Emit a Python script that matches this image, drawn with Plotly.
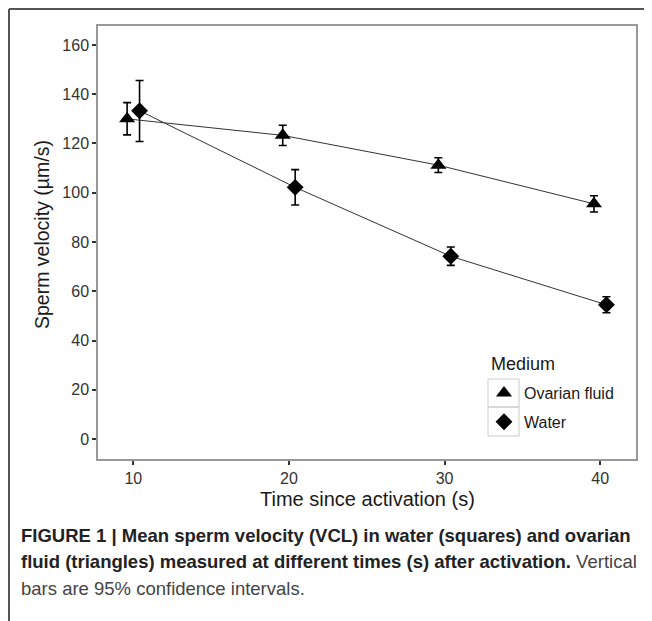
import plotly.graph_objects as go

# Data
times = [10, 20, 30, 40]
dodge = 0.4
ovarian_mean = [130.0, 123.3, 111.2, 95.5]
ovarian_lo = [123.5, 119.2, 108.2, 92.2]
ovarian_hi = [136.6, 127.4, 114.2, 98.8]
water_mean = [133.3, 102.2, 74.2, 54.5]
water_lo = [120.8, 95.0, 70.5, 51.3]
water_hi = [145.6, 109.4, 78.0, 57.8]

x_tick_vals = [10, 20, 30, 40]
y_tick_vals = [0, 20, 40, 60, 80, 100, 120, 140, 160]

# page body has an 8px margin; work in screen pixels and offset
OFF = 8
W, H = 652 - OFF, 621 - OFF
L, R, T, B = 98 - OFF, 16, 26 - OFF, 162
pw, ph = W - L - R, H - T - B

def px_x(p):
    return (p - OFF - L) / pw

def px_y(p):
    return (H - B - (p - OFF)) / ph

ov_x = [t - dodge for t in times]
wa_x = [t + dodge for t in times]

fig = go.Figure()
fig.add_trace(go.Scatter(x=ov_x, y=ovarian_mean, mode="lines", line=dict(color="#333333", width=1),
                         showlegend=False, hoverinfo="skip"))
fig.add_trace(go.Scatter(x=wa_x, y=water_mean, mode="lines", line=dict(color="#333333", width=1),
                         showlegend=False, hoverinfo="skip"))
fig.add_trace(go.Scatter(
    x=ov_x, y=ovarian_mean, mode="markers", name="Ovarian fluid", legendgroup="ov",
    marker=dict(symbol="triangle-up", size=14, color="black"),
    error_y=dict(type="data", symmetric=False,
                 array=[h - m for h, m in zip(ovarian_hi, ovarian_mean)],
                 arrayminus=[m - l for m, l in zip(ovarian_mean, ovarian_lo)],
                 color="black", thickness=1.6, width=4)))
fig.add_trace(go.Scatter(
    x=wa_x, y=water_mean, mode="markers", name="Water", legendgroup="wa",
    marker=dict(symbol="diamond", size=13, color="black"),
    error_y=dict(type="data", symmetric=False,
                 array=[h - m for h, m in zip(water_hi, water_mean)],
                 arrayminus=[m - l for m, l in zip(water_mean, water_lo)],
                 color="black", thickness=1.6, width=4)))

font_family = "Liberation Sans, Arial, sans-serif"

shapes = [
    # outer frame (top and left)
    dict(type="line", xref="paper", yref="paper", x0=px_x(9), x1=px_x(660), y0=px_y(9), y1=px_y(9),
         line=dict(color="#555555", width=2)),
    dict(type="line", xref="paper", yref="paper", x0=px_x(9), x1=px_x(9), y0=px_y(9), y1=px_y(625),
         line=dict(color="#555555", width=2)),
    # legend key boxes
    dict(type="rect", xref="paper", yref="paper", x0=px_x(488), x1=px_x(519), y0=px_y(379), y1=px_y(407),
         line=dict(color="#cccccc", width=1)),
    dict(type="rect", xref="paper", yref="paper", x0=px_x(488), x1=px_x(519), y0=px_y(407), y1=px_y(436),
         line=dict(color="#cccccc", width=1)),
]

annotations = [
    dict(text="Time since activation (s)", xref="paper", yref="paper", x=0.5, y=px_y(499),
         showarrow=False, font=dict(size=20, color="#1a1a1a", family=font_family), yanchor="middle"),
    dict(text="Sperm velocity (µm/s)", xref="paper", yref="paper", x=px_x(42), y=px_y(235), textangle=-90,
         showarrow=False, font=dict(size=19.5, color="#1a1a1a", family=font_family),
         xanchor="center", yanchor="middle"),
    dict(text="Medium", xref="paper", yref="paper", x=px_x(489), y=px_y(364), xanchor="left", yanchor="middle",
         showarrow=False, font=dict(size=18, color="#1a1a1a", family=font_family)),
    dict(text="<b>FIGURE 1 | Mean sperm velocity (VCL) in water (squares) and ovarian</b>",
         xref="paper", yref="paper", x=px_x(19), y=px_y(535), xanchor="left", yanchor="middle",
         showarrow=False, font=dict(size=18.5, color="#222222", family=font_family)),
    dict(text="<b>fluid (triangles) measured at different times (s) after activation.</b>"
              "<span style='color:#444444'> Vertical</span>",
         xref="paper", yref="paper", x=px_x(19), y=px_y(561), xanchor="left", yanchor="middle",
         showarrow=False, font=dict(size=18.5, color="#222222", family=font_family)),
    dict(text="bars are 95% confidence intervals.",
         xref="paper", yref="paper", x=px_x(19), y=px_y(588), xanchor="left", yanchor="middle",
         showarrow=False, font=dict(size=18.5, color="#444444", family=font_family)),
]

fig.update_layout(
    width=W, height=H,
    margin=dict(l=L, r=R, t=T, b=B),
    paper_bgcolor="white", plot_bgcolor="white",
    font=dict(family=font_family),
    shapes=shapes, annotations=annotations,
    legend=dict(x=px_x(484), y=px_y(376), xanchor="left", yanchor="top",
                font=dict(size=16, color="#1a1a1a", family=font_family),
                bgcolor="rgba(0,0,0,0)", tracegroupgap=5, traceorder="grouped", itemwidth=30),
)
fig.update_xaxes(range=[7.73, 42.3], tickvals=x_tick_vals, ticks="outside", ticklen=4, tickwidth=1.5,
                 tickcolor="#333333", tickfont=dict(size=16, color="#333333"),
                 showgrid=False, zeroline=False, showline=True, linecolor="#999999", linewidth=1.5,
                 mirror=True)
fig.update_yaxes(range=[-8.1, 167.7], tickvals=y_tick_vals, ticks="outside", ticklen=4, tickwidth=1.5,
                 tickcolor="#333333", tickfont=dict(size=16, color="#333333"),
                 showgrid=False, zeroline=False, showline=True, linecolor="#999999", linewidth=1.5,
                 mirror=True)

fig.write_html("out.html")
